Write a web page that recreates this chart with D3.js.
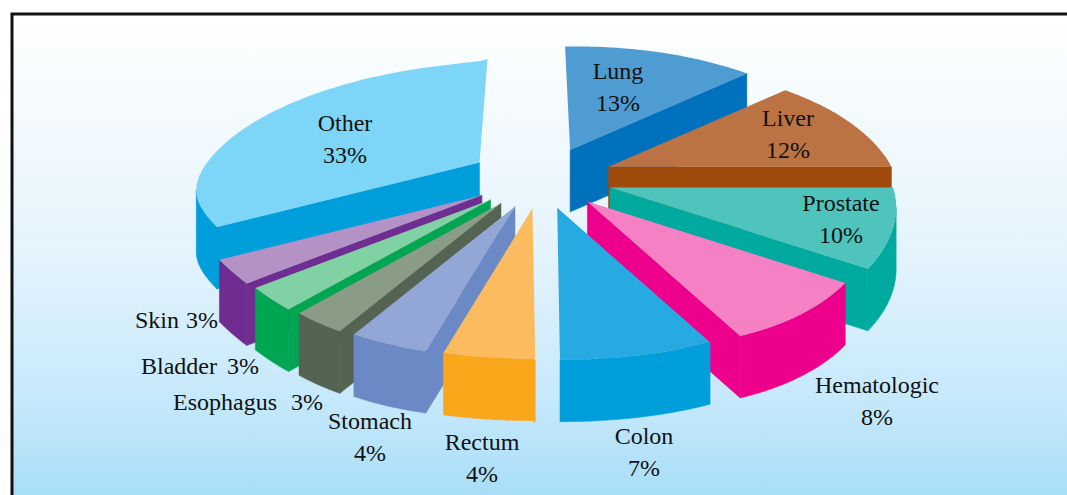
<!DOCTYPE html>
<html>
<head>
<meta charset="utf-8">
<script src="https://cdn.jsdelivr.net/npm/d3@7"></script>
<style>
html, body { margin: 0; padding: 0; background: #fff; overflow: hidden; }
text { font-family: "Liberation Serif", serif; font-size: 24px; fill: #111; white-space: pre; }
</style>
</head>
<body>
<svg width="1067" height="495"></svg>
<script>
const names = ["Lung", "Liver", "Prostate", "Hematologic", "Colon", "Rectum", "Stomach", "Esophagus", "Bladder", "Skin", "Other"];
const values = [13, 12, 10, 8, 7, 4, 4, 3, 3, 3, 33];
const topColors = ["#4f9cd2", "#bb7344", "#4ec4bc", "#f680c4", "#27aae1", "#fdbb5f", "#92a7d6", "#8a9c85", "#80d2a4", "#b592c5", "#7dd6f8"];
const wallColors = ["#0071bc", "#9e4a0b", "#00aa9e", "#ec008c", "#009edb", "#faa61a", "#6b8ac5", "#556352", "#00a651", "#6f2c91", "#009edb"];

// back to front
const drawOrder = ["Lung", "Other", "Liver", "Prostate", "Hematologic", "Skin", "Bladder", "Esophagus", "Stomach", "Colon", "Rectum"];

// label layout: [x, baseline of first line], inline ones also get the right edge of the percent
const labelLayout = {
    Lung: [618, 79], Liver: [788, 126], Prostate: [841, 211], Hematologic: [877, 393],
    Colon: [644, 444], Rectum: [482, 450], Stomach: [370, 429], Other: [345, 131],
    Esophagus: [173, 410, 323], Bladder: [141, 374, 259], Skin: [135, 328, 218]
};

const svg = d3.select("svg");
const defs = svg.append("defs");
const grad = defs.append("linearGradient").attr("id", "bg").attr("x1", 0).attr("y1", 0).attr("x2", 0).attr("y2", 1);
grad.append("stop").attr("offset", "0%").attr("stop-color", "#ffffff");
grad.append("stop").attr("offset", "50%").attr("stop-color", "#e3f3fc");
grad.append("stop").attr("offset", "80%").attr("stop-color", "#c4e8fb");
grad.append("stop").attr("offset", "100%").attr("stop-color", "#a6dcf8");

svg.append("rect").attr("x", 12).attr("y", 14).attr("width", 1060).attr("height", 490)
    .attr("fill", "url(#bg)").attr("stroke", "#111").attr("stroke-width", 3);

// pie geometry, fitted on the picture
const cx = 541.5, cy = 178, explodeX = 72, explodeY = 30.6;
const rimX = 283, rimY = 123, perspX = 0.234, perspY = 0.19, depth = 62;
const deg = Math.PI / 180;

const pie = d3.pie().sort(null).value(function(d) { return d; }).startAngle(0).endAngle(2 * Math.PI);
const arcs = pie(values);

// offset of a rim point from the slice apex
function rimOffset(a) {
    const X = Math.sin(a), Y = Math.cos(a);
    let dx = rimX * X / (1 + perspX * Y);
    let dy = -rimY * Y / (1 + perspY * Y);
    if (a < 60 * deg) {
        dx -= 5 * (1 - a / (60 * deg));
    }
    if (a < 90 * deg) {
        dy -= 2 * Math.sin(2 * a);
    }
    if (a > 90 * deg && a < 150 * deg) {
        dx *= 1 - 0.03 * Math.sin(3 * (a - 90 * deg));
    }
    if (a > 155 * deg && a < 195 * deg) {
        dx += 3 * Math.sin((a - 155 * deg) / (40 * deg) * Math.PI);
    }
    // the left side of the original is squeezed a little
    if (a > Math.PI && a < 1.5 * Math.PI) {
        const s = Math.sin(2 * (a - Math.PI));
        dx *= 1 - 0.085 * s * s;
        dy *= 0.99;
    }
    // and the back left sags
    if (a > 240 * deg) {
        const t = Math.min(1, (a - 240 * deg) / (120 * deg));
        let bump = Math.sqrt(Math.max(0, Math.sin(t * Math.PI)));
        if (t < 0.25) {
            const u = t / 0.25;
            bump = 0.84 * u * u * (3 - 2 * u);
        }
        dy += 8.5 * bump;
        dx += 7 * bump + 8 * Math.pow(t, 6);
    }
    return [dx, dy];
}

const line = d3.line();

arcs.forEach(function(d, i) { d.name = names[i]; d.top = topColors[i]; d.wall = wallColors[i]; });

const slices = svg.append("g").selectAll("g")
    .data(drawOrder.map(function(n) { return arcs[names.indexOf(n)]; }))
    .enter().append("g");

slices.each(function(d) {
    const g = d3.select(this);
    const mid = (d.startAngle + d.endAngle) / 2;
    const ax = cx + explodeX * Math.sin(mid);
    const ay = cy - explodeY * Math.cos(mid);
    const pt = function(a, down) {
        const o = rimOffset(a);
        return [ax + o[0], ay + o[1] + (down ? depth : 0)];
    };

    // radial walls, only those turned towards the viewer
    [d.startAngle, d.endAngle].forEach(function(a, k) {
        const facing = k == 0 ? Math.sin(a) < -0.01 : Math.sin(a) > 0.01;
        if (!facing) return;
        g.append("path")
            .attr("d", line([[ax, ay], pt(a, false), pt(a, true), [ax, ay + depth]]) + "Z")
            .attr("fill", d.wall).attr("stroke", d.wall).attr("stroke-width", 0.5);
    });

    // outer wall runs between the rim's right and left extremes
    const scan = d3.range(0, 201).map(function(k) { return d.startAngle + (d.endAngle - d.startAngle) * k / 200; });
    const rightSide = scan.filter(function(a) { return a <= Math.PI; });
    const leftSide = scan.filter(function(a) { return a >= Math.PI; });
    const from = rightSide.length ? d3.greatest(rightSide, function(a) { return pt(a, false)[0]; }) : d.startAngle;
    const to = leftSide.length ? d3.least(leftSide, function(a) { return pt(a, false)[0]; }) : d.endAngle;
    if (to > from) {
        const steps = d3.range(0, 41).map(function(k) { return from + (to - from) * k / 40; });
        const outer = steps.map(function(a) { return pt(a, false); })
            .concat(steps.slice().reverse().map(function(a) { return pt(a, true); }));
        g.append("path").attr("d", line(outer) + "Z")
            .attr("fill", d.wall).attr("stroke", d.wall).attr("stroke-width", 0.5);
    }

    // top face
    const count = 60;
    const rimPts = d3.range(0, count + 1).map(function(k) {
        return pt(d.startAngle + (d.endAngle - d.startAngle) * k / count, false);
    });
    g.append("path").attr("d", line([[ax, ay]].concat(rimPts)) + "Z").attr("fill", d.top);
});

// labels
names.forEach(function(n, i) {
    const pos = labelLayout[n];
    const pct = values[i] + "%";
    if (pos.length == 3) {
        svg.append("text").attr("x", pos[0]).attr("y", pos[1]).text(n);
        svg.append("text").attr("x", pos[2]).attr("y", pos[1]).attr("text-anchor", "end").text(pct);
    } else {
        svg.append("text").attr("x", pos[0]).attr("y", pos[1]).attr("text-anchor", "middle").text(n);
        svg.append("text").attr("x", pos[0]).attr("y", pos[1] + 32).attr("text-anchor", "middle").text(pct);
    }
});
</script>
</body>
</html>
